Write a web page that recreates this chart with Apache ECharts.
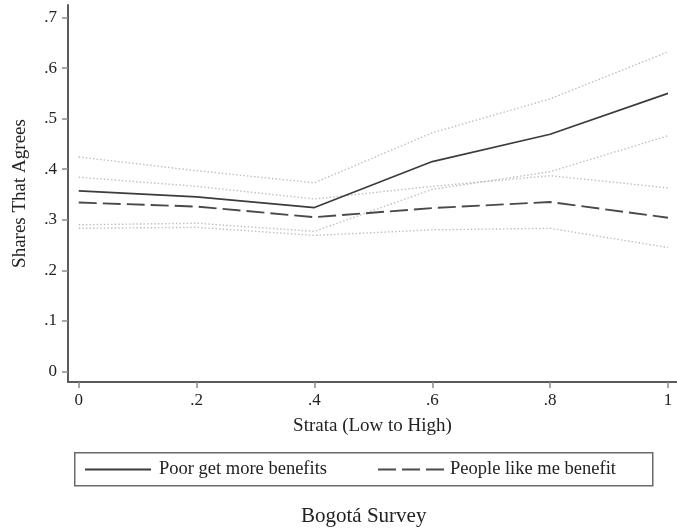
<!DOCTYPE html>
<html>
<head>
<meta charset="utf-8">
<script src="https://cdn.jsdelivr.net/npm/echarts@6/dist/echarts.min.js"></script>
<style>
  html, body { margin: 0; padding: 0; background: #fff; }
  #chart { width: 677px; height: 528px; }
</style>
</head>
<body>
<div id="chart"></div>
<script>
// Strata positions (0 = low, 1 = high)
const strata = [0, 0.2, 0.4, 0.6, 0.8, 1];
const xTicks = [0, 0.2, 0.4, 0.6, 0.8, 1];
const yTicks = [0, 0.1, 0.2, 0.3, 0.4, 0.5, 0.6, 0.7];

// "Poor get more benefits": share agreeing, with 95% interval bounds
const poorShare = [0.357, 0.345, 0.324, 0.415, 0.469, 0.550];
const poorLow   = [0.290, 0.293, 0.277, 0.360, 0.395, 0.466];
const poorHigh  = [0.424, 0.397, 0.373, 0.472, 0.539, 0.632];

// "People like me benefit": share agreeing, with 95% interval bounds
const likeShare = [0.334, 0.326, 0.305, 0.323, 0.335, 0.304];
const likeLow   = [0.283, 0.285, 0.269, 0.280, 0.283, 0.245];
const likeHigh  = [0.384, 0.366, 0.341, 0.366, 0.387, 0.363];

const FONT = '"Liberation Serif", "DejaVu Serif", serif';
const pairs = vals => strata.map((s, i) => [s, vals[i]]);
const tickText = v => (v === 0 ? '0' : v === 1 ? '1' : String(v).replace(/^0/, ''));

const ciStyle = { color: '#bdbdbd', width: 1.4, type: [1.4, 2.2] };

function ciSeries(name, vals) {
  return {
    name: name, type: 'line', data: pairs(vals), symbol: 'none',
    lineStyle: ciStyle, z: 1, silent: true
  };
}

// legend entries show only the line sample, no marker
const legendBase = {
  top: 460, padding: 0, itemWidth: 66, itemHeight: 16,
  itemStyle: { opacity: 0, color: 'transparent', borderWidth: 0 },
  textStyle: { fontFamily: FONT, fontSize: 18.5, color: '#222' }
};

const chart = echarts.init(document.getElementById('chart'));
chart.setOption({
  animation: false,
  backgroundColor: '#fff',
  title: {
    text: 'Bogotá Survey', left: 296, top: 501,
    textStyle: { fontFamily: FONT, fontSize: 21, fontWeight: 'normal', color: '#222' }
  },
  grid: { left: 68, right: 0, top: 5, bottom: 146, containLabel: false, outerBoundsMode: 'none' },
  xAxis: {
    type: 'value', min: -0.0182, max: 1.0153,
    name: 'Strata (Low to High)', nameLocation: 'middle', nameGap: 35, nameMoveOverlap: false,
    nameTextStyle: { fontFamily: FONT, fontSize: 19, color: '#222' },
    axisLine: { show: true, onZero: false, lineStyle: { color: '#5a5a5a', width: 2 } },
    axisTick: { show: true, length: 6, lineStyle: { color: '#8a8a8a', width: 1.5 }, customValues: xTicks },
    axisLabel: { customValues: xTicks, formatter: tickText, fontFamily: FONT, fontSize: 17, color: '#222', margin: 10 },
    splitLine: { show: false }
  },
  yAxis: {
    type: 'value', min: -0.021, max: 0.7247,
    name: 'Shares That Agrees', nameLocation: 'middle', nameGap: 38, nameRotate: 90, nameMoveOverlap: false,
    nameTextStyle: { fontFamily: FONT, fontSize: 19, color: '#222' },
    axisLine: { show: true, onZero: false, lineStyle: { color: '#5a5a5a', width: 2 } },
    axisTick: { show: true, length: 6, lineStyle: { color: '#8a8a8a', width: 1.5 }, customValues: yTicks },
    axisLabel: { customValues: yTicks, formatter: tickText, fontFamily: FONT, fontSize: 17, color: '#222', margin: 11 },
    splitLine: { show: false }
  },
  legend: [
    Object.assign({}, legendBase, {
      data: ['Poor get more benefits'], left: 84,
      textStyle: Object.assign({}, legendBase.textStyle, { padding: [0, 0, 0, 3] })
    }),
    Object.assign({}, legendBase, {
      data: ['People like me benefit'], left: 377,
      textStyle: Object.assign({}, legendBase.textStyle, { padding: [0, 0, 0, 1] })
    })
  ],
  graphic: [
    {
      type: 'rect', left: 74, top: 452, z: -1,
      shape: { width: 578, height: 33 },
      style: { fill: '#fff', stroke: '#6a6a6a', lineWidth: 1.5 }
    }
  ],
  series: [
    ciSeries('poorLow', poorLow),
    ciSeries('poorHigh', poorHigh),
    ciSeries('likeLow', likeLow),
    ciSeries('likeHigh', likeHigh),
    {
      name: 'Poor get more benefits', type: 'line', data: pairs(poorShare), symbol: 'none', z: 3,
      lineStyle: { color: '#3c3c3c', width: 1.7, type: 'solid' },
      itemStyle: { color: '#3c3c3c' }
    },
    {
      name: 'People like me benefit', type: 'line', data: pairs(likeShare), symbol: 'none', z: 3,
      lineStyle: { color: '#4a4a4a', width: 1.9, type: [18, 6] },
      itemStyle: { color: '#4a4a4a' }
    }
  ]
});
</script>
</body>
</html>
